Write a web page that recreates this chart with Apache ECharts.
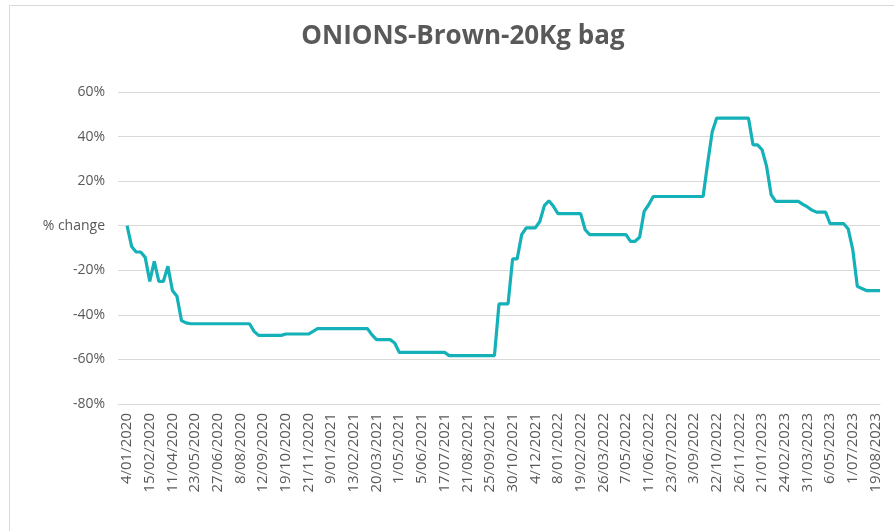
<!DOCTYPE html>
<html>
<head>
<meta charset="utf-8">
<script src="https://cdn.jsdelivr.net/npm/echarts@6/dist/echarts.min.js"></script>
<style>
  html, body { margin: 0; padding: 0; background: #fff; }
  #chart { width: 894px; height: 531px; }
</style>
</head>
<body>
<div id="chart"></div>
<script>
// survey dates (category labels, every 5th one is shown)
const dates = [
  '4/01/2020', '11/01/2020', '18/01/2020', '25/01/2020', '8/02/2020',
  '15/02/2020', '22/02/2020', '29/02/2020', '7/03/2020', '21/03/2020',
  '11/04/2020', '18/04/2020', '25/04/2020', '2/05/2020', '16/05/2020',
  '23/05/2020', '30/05/2020', '6/06/2020', '13/06/2020', '20/06/2020',
  '27/06/2020', '4/07/2020', '11/07/2020', '18/07/2020', '1/08/2020',
  '8/08/2020', '15/08/2020', '22/08/2020', '29/08/2020', '5/09/2020',
  '12/09/2020', '19/09/2020', '26/09/2020', '3/10/2020', '10/10/2020',
  '19/10/2020', '24/10/2020', '31/10/2020', '7/11/2020', '14/11/2020',
  '21/11/2020', '28/11/2020', '5/12/2020', '12/12/2020', '19/12/2020',
  '9/01/2021', '16/01/2021', '23/01/2021', '30/01/2021', '6/02/2021',
  '13/02/2021', '20/02/2021', '27/02/2021', '6/03/2021', '13/03/2021',
  '20/03/2021', '27/03/2021', '10/04/2021', '17/04/2021', '24/04/2021',
  '1/05/2021', '8/05/2021', '15/05/2021', '22/05/2021', '29/05/2021',
  '5/06/2021', '12/06/2021', '19/06/2021', '26/06/2021', '10/07/2021',
  '17/07/2021', '24/07/2021', '31/07/2021', '7/08/2021', '14/08/2021',
  '21/08/2021', '28/08/2021', '4/09/2021', '11/09/2021', '18/09/2021',
  '25/09/2021', '2/10/2021', '9/10/2021', '16/10/2021', '23/10/2021',
  '30/10/2021', '6/11/2021', '13/11/2021', '20/11/2021', '27/11/2021',
  '4/12/2021', '11/12/2021', '18/12/2021', '25/12/2021', '1/01/2022',
  '8/01/2022', '15/01/2022', '22/01/2022', '29/01/2022', '12/02/2022',
  '19/02/2022', '26/02/2022', '5/03/2022', '12/03/2022', '19/03/2022',
  '26/03/2022', '2/04/2022', '9/04/2022', '23/04/2022', '30/04/2022',
  '7/05/2022', '14/05/2022', '21/05/2022', '28/05/2022', '4/06/2022',
  '11/06/2022', '18/06/2022', '25/06/2022', '2/07/2022', '16/07/2022',
  '23/07/2022', '30/07/2022', '6/08/2022', '13/08/2022', '27/08/2022',
  '3/09/2022', '10/09/2022', '17/09/2022', '1/10/2022', '15/10/2022',
  '22/10/2022', '29/10/2022', '5/11/2022', '12/11/2022', '19/11/2022',
  '26/11/2022', '3/12/2022', '10/12/2022', '17/12/2022', '14/01/2023',
  '21/01/2023', '28/01/2023', '4/02/2023', '11/02/2023', '18/02/2023',
  '24/02/2023', '3/03/2023', '10/03/2023', '17/03/2023', '24/03/2023',
  '31/03/2023', '8/04/2023', '15/04/2023', '22/04/2023', '29/04/2023',
  '6/05/2023', '13/05/2023', '20/05/2023', '3/06/2023', '17/06/2023',
  '1/07/2023', '8/07/2023', '15/07/2023', '29/07/2023', '5/08/2023',
  '19/08/2023', '26/08/2023',
]

// % change since first survey
const pctChange = [
  0, -9.3, -11.8, -11.8, -14.2,
  -25, -16, -25, -25, -18.2,
  -29.1, -31.7, -42.6, -43.6, -44,
  -44, -44, -44, -44, -44,
  -44, -44, -44, -44, -44,
  -44, -44, -44, -47.4, -49.2,
  -49.2, -49.2, -49.2, -49.2, -49.2,
  -48.6, -48.6, -48.6, -48.6, -48.6,
  -48.6, -47.4, -46.2, -46.2, -46.2,
  -46.2, -46.2, -46.2, -46.2, -46.2,
  -46.2, -46.2, -46.2, -46.2, -49,
  -51.1, -51.1, -51.1, -51.1, -52.6,
  -56.8, -56.8, -56.8, -56.8, -56.8,
  -56.8, -56.8, -56.8, -56.8, -56.8,
  -56.8, -58.3, -58.3, -58.3, -58.3,
  -58.3, -58.3, -58.3, -58.3, -58.3,
  -58.3, -58.3, -35.1, -35.1, -35.1,
  -14.9, -14.9, -4, -1, -1,
  -1, 1.9, 9, 11.2, 8.7,
  5.4, 5.4, 5.4, 5.4, 5.4,
  5.4, -1.8, -4, -4, -4,
  -4, -4, -4, -4, -4,
  -4, -7, -7, -5.2, 6.4,
  9.4, 13.1, 13.1, 13.1, 13.1,
  13.1, 13.1, 13.1, 13.1, 13.1,
  13.1, 13.1, 13.1, 28, 42,
  48.3, 48.3, 48.3, 48.3, 48.3,
  48.3, 48.3, 48.3, 36.3, 36.3,
  34.1, 26.6, 13.9, 10.9, 10.9,
  10.9, 10.9, 10.9, 10.9, 9.6,
  8.4, 7, 6.1, 6.1, 6.1,
  0.9, 0.9, 0.9, 0.9, -1.5,
  -10.8, -27.2, -28.2, -29.1, -29.1,
  -29.1, -29.1,
]

const yTicks = [-80, -60, -40, -20, 0, 20, 40, 60]

const labelIdx = []
for (let i = 0; i < dates.length; i += 5)
  labelIdx.push(i)

const textColor = '#595959'
const font = '"Open Sans", "Noto Sans", sans-serif'

const chart = echarts.init(document.getElementById('chart'))
chart.setOption({
  animation: false,
  textStyle: { fontFamily: font },
  title: {
    text: 'ONIONS-Brown-20Kg bag',
    left: 458,
    textAlign: 'center',
    top: 19,
    textStyle: { fontFamily: font, fontSize: 26, fontWeight: 'bold', color: textColor },
  },
  graphic: [{
    type: 'rect',
    shape: { x: 9.5, y: 5.5, width: 1000, height: 1000 },
    style: { fill: 'none', stroke: '#d9d9d9', lineWidth: 1 },
    silent: true,
  }],
  grid: { left: 118, right: 14, top: 92, bottom: 127 },
  xAxis: {
    type: 'value',
    min: -2,
    max: dates.length - 1,
    axisLine: { onZero: false, lineStyle: { color: '#d9d9d9' } },
    axisTick: { show: false },
    splitLine: { show: false },
    axisLabel: {
      customValues: labelIdx,
      formatter: (v) => dates[v] ?? '',
      rotate: 90,
      margin: 9,
      fontSize: 15,
      color: textColor,
      fontFamily: font,
    },
  },
  yAxis: {
    type: 'value',
    min: yTicks[0],
    max: yTicks[yTicks.length - 1],
    interval: 20,
    axisLine: { show: false, onZero: false },
    axisTick: { show: false },
    splitLine: { lineStyle: { color: '#d9d9d9', width: 1 } },
    axisLabel: {
      formatter: v => (v === 0 ? '% change' : `${v}%`),
      margin: 13,
      fontSize: 14,
      color: textColor,
      fontFamily: font,
    },
  },
  series: [{
    type: 'line',
    data: pctChange.map((v, i) => [i, v]),
    showSymbol: false,
    lineStyle: { color: '#14b1b8', width: 3.2 },
    itemStyle: { color: '#14b1b8' },
  }],
})
</script>
</body>
</html>
